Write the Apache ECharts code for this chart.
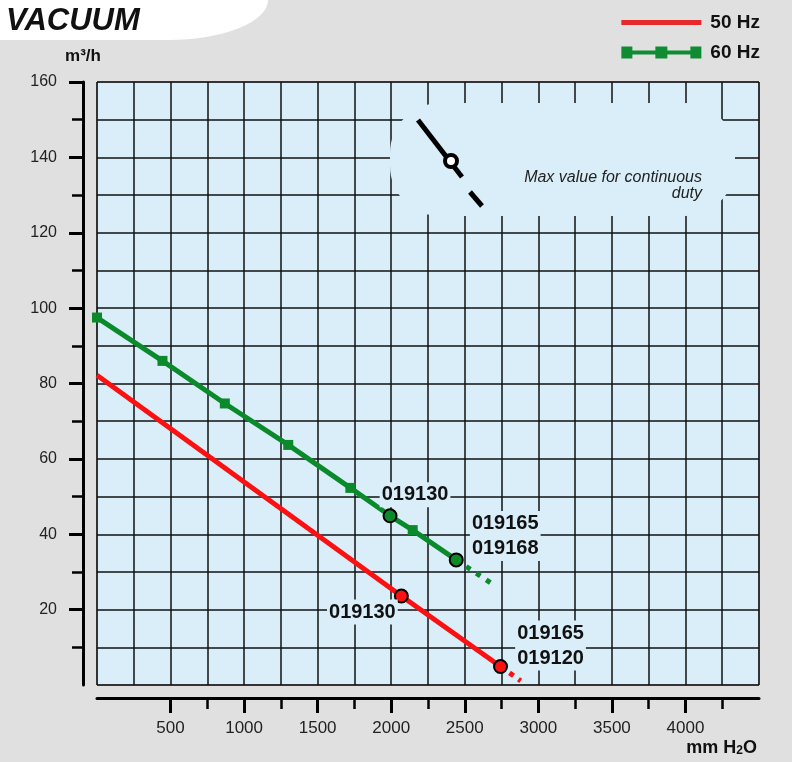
<!DOCTYPE html>
<html>
<head>
<meta charset="utf-8">
<script src="https://cdn.jsdelivr.net/npm/echarts@6/dist/echarts.min.js"></script>
<style>
  html, body { margin: 0; padding: 0; background: #e0e0e0; }
  #chart { width: 792px; height: 762px; }
</style>
</head>
<body>
<div id="chart"></div>
<script>
// ---- data ----
var redX = [0, 2069, 2743];
var redY = [82.2, 23.6, 4.9];
var redMark = ['none', 'circle', 'circle'];
var redLabels = ['', '019130', '019165\n019120'];
var redExtX = [2743, 2880];
var redExtY = [4.9, 1.1];

var greenX = [0, 445, 869, 1300, 1722, 1992, 2146, 2442];
var greenY = [97.5, 86.0, 74.7, 63.7, 52.3, 44.9, 41.1, 33.2];
var greenMark = ['rect', 'rect', 'rect', 'rect', 'rect', 'circle', 'rect', 'circle'];
var greenLabels = ['', '', '', '', '', '019130', '', '019165\n019168'];
var greenExtX = [2442, 2680];
var greenExtY = [33.2, 27.0];

var xMajor = [500, 1000, 1500, 2000, 2500, 3000, 3500, 4000];
var xMinor = [750, 1250, 1750, 2250, 2750, 3250, 3750, 4250];
var yMajor = [20, 40, 60, 80, 100, 120, 140, 160];
var yMinor = [10, 30, 50, 70, 90, 110, 130, 150];

// label placement (pixels, relative to marker)
var redOffsets = { 1: [-39, 16], 2: [50, -21] };
var greenOffsets = { 5: [25, -21], 7: [49, -24] };

var RED = '#fb1111';
var GREEN = '#0b8a2c';
var PLOT_BG = '#d9eef9';

function points(xs, ys, marks, labels, color, offsets) {
  return xs.map(function (x, i) {
    var isCircle = marks && marks[i] === 'circle';
    var item = {
      value: [x, ys[i]],
      symbol: marks ? marks[i] : 'none',
      symbolSize: isCircle ? 13 : 10,
      itemStyle: isCircle
        ? { color: color, borderColor: '#000', borderWidth: 2 }
        : { color: color, borderWidth: 0 }
    };
    if (labels && labels[i]) {
      item.label = {
        show: true,
        position: 'inside',
        offset: offsets[i],
        formatter: labels[i],
        fontFamily: 'Liberation Sans, Arial, sans-serif',
        fontSize: 20,
        fontWeight: 'bold',
        lineHeight: 25,
        color: '#111',
        backgroundColor: PLOT_BG,
        padding: [0, 2]
      };
    }
    return item;
  });
}

function pairs(xs, ys) {
  return xs.map(function (x, i) { return [x, ys[i]]; });
}

function plain(v) { return String(v); }

var chart = echarts.init(document.getElementById('chart'), null, { renderer: 'canvas' });

var font = 'Liberation Sans, Arial, sans-serif';

chart.setOption({
  animation: false,
  backgroundColor: '#e0e0e0',
  textStyle: { fontFamily: font },
  legend: {
    orient: 'vertical',
    right: 27,
    top: 8,
    itemWidth: 80,
    itemHeight: 12,
    itemGap: 11,
    selectedMode: false,
    textStyle: { fontSize: 19, fontWeight: 'bold', color: '#111', padding: [0, 0, 0, 4] },
    data: [
      { name: '50 Hz', icon: 'path://M0 3.5h80v5h-80z M0 0h0.05v0.05h-0.05z M0 11.95h0.05v0.05h-0.05z', itemStyle: { color: '#e42a2a' } },
      { name: '60 Hz', icon: 'path://M0 4h80v4h-80z M0 0h11v12h-11z M34 0h12v12h-12z M69 0h11v12h-11z', itemStyle: { color: '#0f8c31' } }
    ]
  },
  grid: {
    left: 97, top: 82, width: 662, height: 603,
    show: true,
    backgroundColor: PLOT_BG,
    borderColor: '#555',
    borderWidth: 1
  },
  xAxis: [
    {
      type: 'value', min: 0, max: 4500, interval: 250,
      axisLine: { show: false }, axisTick: { show: false }, axisLabel: { show: false },
      splitLine: { show: true, lineStyle: { color: '#111', width: 1.5 } }
    },
    {
      type: 'value', min: 0, max: 4500, interval: 500, position: 'bottom', offset: 13,
      axisLine: { show: true, onZero: false, lineStyle: { color: '#000', width: 3 } },
      axisTick: { show: true, length: 15, lineStyle: { color: '#000', width: 3 }, customValues: xMajor },
      axisLabel: { show: true, customValues: xMajor, formatter: plain, margin: 22, fontSize: 17, color: '#222' },
      splitLine: { show: false }
    },
    {
      type: 'value', min: 0, max: 4500, interval: 250, position: 'bottom', offset: 13,
      axisLine: { show: false, onZero: false },
      axisTick: { show: true, length: 11, lineStyle: { color: '#000', width: 2.5 }, customValues: xMinor },
      axisLabel: { show: false },
      splitLine: { show: false }
    }
  ],
  yAxis: [
    {
      type: 'value', min: 0, max: 160, interval: 10,
      axisLine: { show: false }, axisTick: { show: false }, axisLabel: { show: false },
      splitLine: { show: true, lineStyle: { color: '#111', width: 1.5 } }
    },
    {
      type: 'value', min: 0, max: 160, interval: 20, position: 'left', offset: 14,
      name: 'm³/h', nameLocation: 'end', nameGap: 17,
      nameTextStyle: { fontSize: 17, fontWeight: 'bold', color: '#111' },
      axisLine: { show: true, onZero: false, lineStyle: { color: '#000', width: 3 } },
      axisTick: { show: true, length: 14, lineStyle: { color: '#000', width: 3 }, customValues: yMajor },
      axisLabel: { show: true, customValues: yMajor, formatter: plain, margin: 26, fontSize: 16, color: '#222' },
      splitLine: { show: false }
    },
    {
      type: 'value', min: 0, max: 160, interval: 10, position: 'left', offset: 14,
      axisLine: { show: false, onZero: false },
      axisTick: { show: true, length: 11, lineStyle: { color: '#000', width: 2.5 }, customValues: yMinor },
      axisLabel: { show: false },
      splitLine: { show: false }
    }
  ],
  series: [
    {
      name: '50 Hz', type: 'line', xAxisIndex: 0, yAxisIndex: 0,
      data: points(redX, redY, redMark, redLabels, RED, redOffsets),
      lineStyle: { color: RED, width: 5 },
      itemStyle: { color: RED },
      z: 4
    },
    {
      name: '50 Hz ext', type: 'line', xAxisIndex: 0, yAxisIndex: 0,
      data: pairs(redExtX, redExtY), symbol: 'none',
      lineStyle: { color: RED, width: 5, type: [5, 6] },
      z: 3
    },
    {
      name: '60 Hz', type: 'line', xAxisIndex: 0, yAxisIndex: 0,
      data: points(greenX, greenY, greenMark, greenLabels, GREEN, greenOffsets),
      lineStyle: { color: GREEN, width: 5 },
      itemStyle: { color: GREEN },
      z: 4
    },
    {
      name: '60 Hz ext', type: 'line', xAxisIndex: 0, yAxisIndex: 0,
      data: pairs(greenExtX, greenExtY), symbol: 'none',
      lineStyle: { color: GREEN, width: 5, type: [5, 7] },
      z: 3
    }
  ],
  graphic: [
    {
      type: 'rect', z: 1, scaleY: 0.4,
      shape: { x: 0, y: -150, width: 268, height: 250, r: [0, 0, 100, 0] },
      style: { fill: '#fff' }
    },
    {
      type: 'text', z: 2, x: 6, y: 21,
      style: { text: 'VACUUM', font: 'italic bold 31px ' + font, fill: '#111', textVerticalAlign: 'middle' }
    },
    {
      type: 'rect', z: 5,
      shape: { x: 390, y: 103, width: 345, height: 113, r: 50 },
      style: { fill: PLOT_BG }
    },
    {
      type: 'line', z: 6,
      shape: { x1: 418, y1: 120, x2: 462, y2: 177 },
      style: { stroke: '#000', lineWidth: 5 }
    },
    {
      type: 'line', z: 6,
      shape: { x1: 470, y1: 192, x2: 482, y2: 206 },
      style: { stroke: '#000', lineWidth: 5 }
    },
    {
      type: 'circle', z: 7,
      shape: { cx: 451, cy: 161, r: 6 },
      style: { fill: '#fff', stroke: '#000', lineWidth: 4 }
    },
    {
      type: 'text', z: 7, x: 702, y: 178,
      style: { text: 'Max value for continuous', font: 'italic 16px ' + font, fill: '#222', textAlign: 'right', textVerticalAlign: 'middle' }
    },
    {
      type: 'text', z: 7, x: 702, y: 194,
      style: { text: 'duty', font: 'italic 16px ' + font, fill: '#222', textAlign: 'right', textVerticalAlign: 'middle' }
    },
    {
      type: 'text', z: 7, x: 757, y: 748,
      style: {
        text: '{a|mm H}{s|2}{a|O}',
        textAlign: 'right', textVerticalAlign: 'middle',
        rich: {
          a: { fontFamily: font, fontSize: 18, fontWeight: 'bold', fill: '#111', color: '#111' },
          s: { fontFamily: font, fontSize: 12, fontWeight: 'bold', fill: '#111', color: '#111', padding: [5, 0, 0, 0] }
        }
      }
    }
  ]
});
</script>
</body>
</html>
